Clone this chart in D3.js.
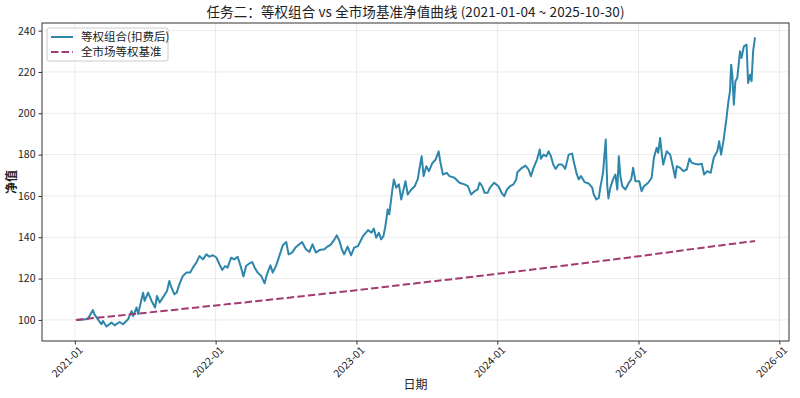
<!DOCTYPE html>
<html>
<head>
<meta charset="utf-8">
<script src="https://cdn.jsdelivr.net/npm/d3@7"></script>
<style>
  body { margin: 0; background: #fff; }
  svg text { font-family: "Noto Sans CJK SC", "DejaVu Sans", sans-serif; fill: #222; }
  .grid line { stroke: #b0b0b0; stroke-opacity: 0.3; stroke-width: 0.8; }
  .axis path { stroke: #333; }
  .axis line { stroke: #333; }
  .axis text { font-size: 10.5px; }
</style>
</head>
<body>
<svg width="800" height="398"></svg>
<script>
// 等权组合(扣费后) net value
const portDates = [
  '2021-01-04','2021-01-29','2021-02-04','2021-02-17','2021-02-21','2021-03-02','2021-03-11','2021-03-15','2021-03-24','2021-04-06',
  '2021-04-14','2021-04-27','2021-05-06','2021-05-19','2021-05-28','2021-06-01','2021-06-10','2021-06-14','2021-06-23','2021-06-27',
  '2021-07-01','2021-07-10','2021-07-19','2021-07-28','2021-08-02','2021-08-09','2021-08-17','2021-08-28','2021-09-03','2021-09-07',
  '2021-09-16','2021-09-22','2021-09-29','2021-10-08','2021-10-17','2021-10-27','2021-11-03','2021-11-12','2021-11-20','2021-11-29',
  '2021-12-08','2021-12-16','2021-12-25','2022-01-03','2022-01-11','2022-01-18','2022-01-26','2022-02-01','2022-02-10','2022-02-18',
  '2022-02-27','2022-03-08','2022-03-14','2022-03-21','2022-03-30','2022-04-06','2022-04-12','2022-04-20','2022-04-29','2022-05-08',
  '2022-05-14','2022-05-23','2022-05-29','2022-06-07','2022-06-15','2022-06-24','2022-07-03','2022-07-09','2022-07-18','2022-07-27',
  '2022-08-06','2022-08-13','2022-08-23','2022-09-01','2022-09-09','2022-09-18','2022-09-27','2022-10-10','2022-10-18','2022-10-27',
  '2022-11-05','2022-11-11','2022-11-18','2022-11-24','2022-11-30','2022-12-09','2022-12-18','2022-12-26','2023-01-05','2023-01-18',
  '2023-01-31','2023-02-09','2023-02-15','2023-02-21','2023-02-28','2023-03-06','2023-03-12','2023-03-17','2023-03-23','2023-03-27',
  '2023-04-04','2023-04-08','2023-04-14','2023-04-21','2023-04-27','2023-05-03','2023-05-08','2023-05-14','2023-05-23','2023-06-01',
  '2023-06-09','2023-06-13','2023-06-19','2023-06-24','2023-07-01','2023-07-08','2023-07-16','2023-07-25','2023-08-02','2023-08-06',
  '2023-08-13','2023-08-23','2023-08-30','2023-09-12','2023-09-25','2023-10-08','2023-10-17','2023-10-25','2023-11-03','2023-11-11',
  '2023-11-16','2023-11-23','2023-11-29','2023-12-07','2023-12-13','2023-12-24','2024-01-04','2024-01-13','2024-01-19','2024-01-26',
  '2024-02-03','2024-02-12','2024-02-19','2024-02-22','2024-03-05','2024-03-14','2024-03-22','2024-03-28','2024-04-04','2024-04-13',
  '2024-04-20','2024-04-23','2024-04-30','2024-05-07','2024-05-13','2024-05-19','2024-05-25','2024-05-31','2024-06-08','2024-06-17',
  '2024-06-25','2024-07-04','2024-07-13','2024-07-17','2024-07-24','2024-07-30','2024-08-05','2024-08-14','2024-08-25','2024-09-03',
  '2024-09-07','2024-09-14','2024-09-20','2024-09-24','2024-10-01','2024-10-08','2024-10-12','2024-10-15','2024-10-20','2024-10-27',
  '2024-11-02','2024-11-07','2024-11-11','2024-11-15','2024-11-20','2024-11-28','2024-12-07','2024-12-13','2024-12-18','2024-12-24',
  '2025-01-03','2025-01-09','2025-01-15','2025-01-26','2025-02-04','2025-02-10','2025-02-17','2025-02-21','2025-02-26','2025-03-02',
  '2025-03-06','2025-03-15','2025-03-24','2025-03-28','2025-04-06','2025-04-10','2025-04-19','2025-04-27','2025-05-06','2025-05-13',
  '2025-05-19','2025-05-27','2025-06-05','2025-06-14','2025-06-20','2025-06-28','2025-07-07','2025-07-15','2025-07-24','2025-07-29',
  '2025-08-03','2025-08-09','2025-08-16','2025-08-22','2025-08-26','2025-08-29','2025-09-01','2025-09-05','2025-09-09','2025-09-14',
  '2025-09-21','2025-09-25','2025-10-01','2025-10-08','2025-10-12','2025-10-17','2025-10-21','2025-10-25','2025-10-30'
];
const portValues = [
  100.0, 100.3, 100.6, 104.8, 102.7, 100.3, 97.9, 99.5, 96.8, 98.7,
  97.4, 99.0, 97.9, 100.3, 104.3, 101.9, 106.0, 102.8, 110.0, 113.2,
  109.2, 113.2, 109.2, 106.0, 111.6, 108.4, 110.8, 114.0, 118.8, 116.4,
  112.4, 113.2, 117.2, 121.3, 122.9, 122.9, 125.3, 127.7, 130.9, 129.3,
  131.7, 130.6, 131.3, 130.2, 126.9, 124.2, 126.1, 125.3, 130.1, 129.3,
  130.6, 125.3, 121.0, 126.1, 127.4, 128.0, 125.3, 122.9, 121.3, 117.7,
  122.1, 126.4, 122.9, 126.4, 130.9, 136.1, 137.7, 131.7, 132.6, 135.0,
  136.6, 137.7, 134.2, 132.9, 136.6, 132.6, 133.8, 134.2, 135.5, 136.6,
  139.0, 140.9, 138.2, 134.2, 131.7, 135.5, 131.3, 135.0, 135.7, 140.6,
  143.5, 142.2, 144.2, 139.8, 142.2, 139.0, 140.6, 145.4, 153.5, 151.1,
  163.1, 168.0, 164.0, 165.6, 158.3, 163.1, 167.1, 160.7, 163.1, 164.7,
  168.3, 172.8, 179.2, 169.6, 174.4, 172.0, 175.7, 177.6, 181.6, 176.8,
  170.4, 171.2, 169.6, 168.8, 166.4, 165.6, 164.7, 160.7, 162.3, 163.1,
  166.4, 164.7, 161.5, 161.5, 164.0, 166.4, 164.7, 161.2, 159.9, 163.1,
  164.7, 165.6, 168.0, 171.5, 173.6, 174.7, 172.8, 169.6, 173.6, 177.6,
  182.5, 178.0, 180.0, 179.2, 181.6, 179.2, 175.2, 173.1, 175.2, 175.2,
  173.1, 180.0, 180.5, 176.8, 171.2, 168.0, 169.6, 166.7, 166.0, 164.0,
  160.7, 158.3, 159.1, 164.0, 171.2, 187.3, 164.7, 158.8, 164.0, 168.0,
  170.4, 163.1, 179.2, 169.6, 164.7, 163.1, 166.4, 168.0, 173.6, 167.1,
  167.1, 162.3, 164.7, 166.4, 168.8, 178.5, 183.3, 180.9, 188.1, 180.9,
  175.2, 181.6, 180.0, 176.8, 168.8, 174.4, 173.6, 172.0, 172.8, 178.1,
  176.0, 175.6, 175.2, 175.6, 170.4, 172.0, 171.2, 178.5, 181.6, 186.5,
  180.0, 186.5, 196.1, 205.8, 210.6, 223.5, 218.7, 204.2, 215.5, 217.1,
  230.0, 226.8, 232.4, 233.2, 214.7, 218.7, 215.5, 230.0, 236.7
];

// 全市场等权基准
const benchDates = [
  '2021-01-04','2021-07-01','2022-01-01','2022-07-01','2023-01-01','2023-07-01',
  '2024-01-01','2024-07-01','2025-01-01','2025-07-01','2025-10-30'
];
const benchValues = [100.0, 103.4, 107.0, 110.6, 114.4, 118.3, 122.3, 126.5, 130.8, 135.3, 138.2];

const yTicks = [100, 120, 140, 160, 180, 200, 220, 240];
const xTickDates = ['2021-01-01', '2022-01-01', '2023-01-01', '2024-01-01', '2025-01-01', '2026-01-01'];

const parse = d3.timeParse('%Y-%m-%d');
const port = portDates.map((d, i) => ({date: parse(d), value: portValues[i]}));
const bench = benchDates.map((d, i) => ({date: parse(d), value: benchValues[i]}));

const margin = {top: 23, right: 11, bottom: 57, left: 42};
const width = 800 - margin.left - margin.right;
const height = 398 - margin.top - margin.bottom;

const xExt = d3.extent(port, d => d.date);
const xPad = (xExt[1] - xExt[0]) * 0.05;
const x = d3.scaleTime()
    .domain([new Date(+xExt[0] - xPad), new Date(+xExt[1] + xPad)])
    .range([0, width]);

const yMin = d3.min(port.concat(bench), d => d.value);
const yMax = d3.max(port.concat(bench), d => d.value);
const yPad = (yMax - yMin) * 0.05;
const y = d3.scaleLinear()
    .domain([yMin - yPad, yMax + yPad])
    .range([height, 0]);

const svg = d3.select('svg');
const g = svg.append('g')
    .attr('transform', `translate(${margin.left}, ${margin.top})`);

// grid
g.append('g')
    .attr('class', 'grid')
    .selectAll('line.h').data(yTicks)
    .enter().append('line')
    .attr('x1', 0).attr('x2', width)
    .attr('y1', d => y(d)).attr('y2', d => y(d));

g.append('g')
    .attr('class', 'grid')
    .selectAll('line.v').data(xTickDates.map(parse))
    .enter().append('line')
    .attr('y1', 0).attr('y2', height)
    .attr('x1', d => x(d)).attr('x2', d => x(d));

const line = d3.line()
    .x(d => x(d.date))
    .y(d => y(d.value));

g.append('path')
    .datum(port)
    .attr('fill', 'none')
    .attr('stroke', '#2E86AB')
    .attr('stroke-width', 2)
    .attr('stroke-linejoin', 'round')
    .attr('d', line);

g.append('path')
    .datum(bench)
    .attr('fill', 'none')
    .attr('stroke', '#A23B72')
    .attr('stroke-width', 2)
    .attr('stroke-dasharray', '7.4,3.2')
    .attr('d', line.curve(d3.curveMonotoneX));

// axes
const xAxis = g.append('g')
    .attr('class', 'axis')
    .attr('transform', `translate(0, ${height})`)
    .call(d3.axisBottom(x)
        .tickValues(xTickDates.map(parse))
        .tickFormat(d3.timeFormat('%Y-%m'))
        .tickSize(3.5)
        .tickPadding(3));
xAxis.select('.domain').remove();
xAxis.selectAll('text')
    .attr('text-anchor', 'end')
    .attr('dx', '-0.1em')
    .attr('dy', '0.6em')
    .attr('transform', 'rotate(-45)');

const yAxis = g.append('g')
    .attr('class', 'axis')
    .call(d3.axisLeft(y).tickValues(yTicks).tickSize(3.5).tickPadding(3));
yAxis.select('.domain').remove();

g.append('rect')
    .attr('width', width).attr('height', height)
    .attr('fill', 'none')
    .attr('stroke', '#333')
    .attr('stroke-width', 1);

// labels
svg.append('text')
    .attr('x', margin.left + width / 2)
    .attr('y', 17)
    .attr('text-anchor', 'middle')
    .attr('textLength', 418)
    .attr('lengthAdjust', 'spacing')
    .style('font-size', '13.5px')
    .text('任务二：等权组合 vs 全市场基准净值曲线 (2021-01-04 ~ 2025-10-30)');

svg.append('text')
    .attr('x', margin.left + width / 2)
    .attr('y', 389)
    .attr('text-anchor', 'middle')
    .style('font-size', '12px')
    .text('日期');

svg.append('text')
    .attr('transform', `translate(16, ${margin.top + height / 2}) rotate(-90)`)
    .attr('text-anchor', 'middle')
    .style('font-size', '12px')
    .style('font-weight', 'bold')
    .text('净值');

// legend
const legend = g.append('g').attr('transform', 'translate(5, 5)');
legend.append('rect')
    .attr('width', 121).attr('height', 33)
    .attr('rx', 2)
    .attr('fill', '#fff').attr('fill-opacity', 0.8)
    .attr('stroke', '#ccc');
const items = [
  {label: '等权组合(扣费后)', color: '#2E86AB', dash: null},
  {label: '全市场等权基准', color: '#A23B72', dash: '7.4,3.2'}
];
items.forEach((it, i) => {
  const row = legend.append('g').attr('transform', `translate(4, ${9 + i * 15})`);
  row.append('line')
      .attr('x1', 0).attr('x2', 22)
      .attr('stroke', it.color).attr('stroke-width', 2)
      .attr('stroke-dasharray', it.dash);
  row.append('text')
      .attr('x', 30).attr('y', 4)
      .style('font-size', '11.5px')
      .text(it.label);
});
</script>
</body>
</html>
